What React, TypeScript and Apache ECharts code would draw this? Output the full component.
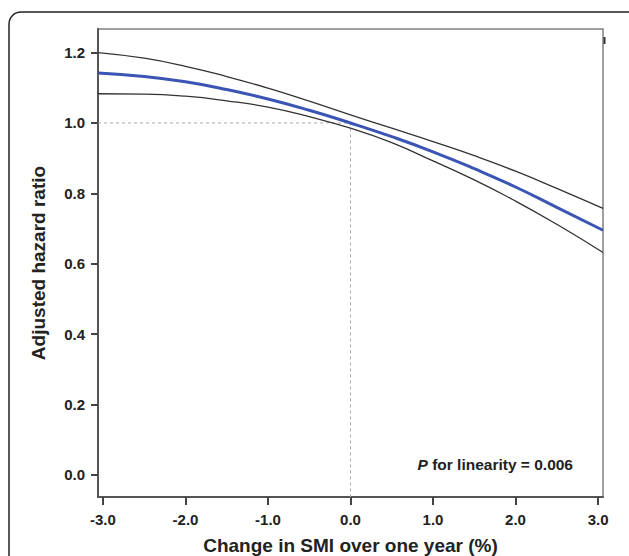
import React, { useEffect, useRef } from "react";
import * as echarts from "echarts";

const xs = [-3.06, -2.5, -2, -1.5, -1, -0.5, 0, 0.5, 1, 1.5, 2, 2.5, 3.06];
const hrMid = [1.142, 1.132, 1.117, 1.095, 1.068, 1.036, 1.0, 0.961, 0.918, 0.87, 0.818, 0.76, 0.695];
const hrUpper = [1.2, 1.184, 1.161, 1.132, 1.099, 1.062, 1.023, 0.985, 0.947, 0.907, 0.863, 0.814, 0.757];
const hrLower = [1.083, 1.082, 1.076, 1.063, 1.045, 1.018, 0.985, 0.944, 0.892, 0.838, 0.778, 0.712, 0.632];
const xTicks = [-3, -2, -1, 0, 1, 2, 3];
const yTicks = [0, 0.2, 0.4, 0.6, 0.8, 1.0, 1.2];
const refLine = [[-3.06, 1.0], [0, 1.0], [0, -0.063]];

const font = "'Liberation Sans', Arial, sans-serif";

export default function App() {
  const ref = useRef<HTMLDivElement>(null);
  useEffect(() => {
    if (!ref.current) return;
    const chart = echarts.init(ref.current, undefined, { renderer: "svg" });
    const pair = (ys: number[]) => xs.map((x, i) => [x, ys[i]]);
    chart.setOption({
      animation: false,
      backgroundColor: "#fff",
      textStyle: { fontFamily: font },
      grid: {
        left: 98,
        top: 29,
        right: 26,
        bottom: 59,
        show: true,
        containLabel: false,
        outerBoundsMode: "none",
        borderColor: "#808080",
        borderWidth: 1.5,
      },
      xAxis: {
        type: "value",
        min: -3.06,
        max: 3.06,
        name: "Change in SMI over one year (%)",
        nameLocation: "middle",
        nameGap: 39,
        nameTextStyle: { fontSize: 19, fontWeight: "bold", color: "#222", fontFamily: font },
        axisLine: { show: true, onZero: false, lineStyle: { color: "#555", width: 2 } },
        axisTick: { show: true, length: 8, customValues: xTicks, lineStyle: { color: "#444", width: 2 } },
        axisLabel: {
          customValues: xTicks,
          margin: 15,
          fontSize: 15,
          fontWeight: "bold",
          color: "#222",
          fontFamily: font,
          formatter: (v: number) => v.toFixed(1),
        },
        splitLine: { show: false },
      },
      yAxis: {
        type: "value",
        min: -0.063,
        max: 1.267,
        name: "Adjusted hazard ratio",
        nameLocation: "middle",
        nameGap: 50,
        nameTextStyle: { fontSize: 19, fontWeight: "bold", color: "#222", fontFamily: font },
        axisLine: { show: true, onZero: false, lineStyle: { color: "#555", width: 2 } },
        axisTick: { show: true, length: 7, customValues: yTicks, lineStyle: { color: "#444", width: 2 } },
        axisLabel: {
          customValues: yTicks,
          margin: 13,
          fontSize: 15,
          fontWeight: "bold",
          color: "#222",
          fontFamily: font,
          formatter: (v: number) => v.toFixed(1),
        },
        splitLine: { show: false },
      },
      series: [
        {
          type: "line",
          data: refLine,
          symbol: "none",
          lineStyle: { color: "#aaa", width: 1, type: [3, 3] },
          z: 1,
        },
        {
          type: "line",
          data: pair(hrUpper),
          smooth: true,
          symbol: "none",
          lineStyle: { color: "#333", width: 1.3 },
          z: 2,
        },
        {
          type: "line",
          data: pair(hrLower),
          smooth: true,
          symbol: "none",
          lineStyle: { color: "#333", width: 1.3 },
          z: 2,
        },
        {
          type: "line",
          data: pair(hrMid),
          smooth: true,
          symbol: "none",
          lineStyle: { color: "#3a55b4", width: 3 },
          z: 3,
        },
      ],
      graphic: [
        {
          type: "rect",
          shape: { x: 9, y: 12, width: 640, height: 620, r: 12 },
          style: { fill: "none", stroke: "#222", lineWidth: 1.5 },
          silent: true,
        },
        {
          type: "line",
          shape: { x1: 604.5, y1: 37, x2: 604.5, y2: 44 },
          style: { stroke: "#333", lineWidth: 2 },
        },
        {
          type: "text",
          right: 629 - 573,
          top: 456,
          style: {
            text: "{i|P} for linearity = 0.006",
            rich: {
              i: { fontStyle: "italic", fontWeight: "bold", fontSize: 15.5, fill: "#222", fontFamily: font },
            },
            fontSize: 15.5,
            fontWeight: "bold",
            fill: "#222",
            fontFamily: font,
          },
        },
      ],
    });
    return () => chart.dispose();
  }, []);
  return (
    <div
      ref={ref}
      style={{ position: "fixed", left: 0, top: 0, width: 629, height: 556, background: "#fff" }}
    />
  );
}
